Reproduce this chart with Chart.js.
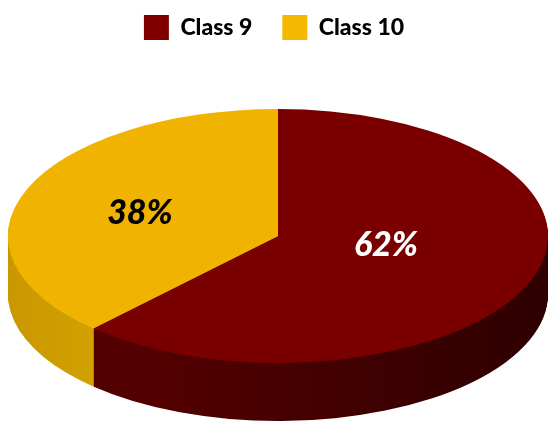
<!DOCTYPE html>
<html>
<head>
<meta charset="utf-8">
<script src="https://cdn.jsdelivr.net/npm/chart.js@4"></script>
<style>
  html, body { margin: 0; padding: 0; background: #fff; }
  #wrap { width: 548px; height: 421px; }
</style>
</head>
<body>
<div id="wrap"><canvas id="myChart" width="548" height="421"></canvas></div>
<script>
const labels = ['Class 9', 'Class 10'];
const shares = [62, 38];
const topColors = ['#7a0000', '#f0b400'];
const legendColors = ['#800000', '#f5b800'];
const sideColors = [['#520000', '#2e0000'], ['#c99800', '#d6a600']];
const labelColors = ['#ffffff', '#000000'];

// ellipse that the flat pie is squashed onto
const ell = { cx: 278, cy: 236, rx: 270, ry: 127, depth: 58 };
// where the % labels sit, as a fraction of the radii
const labelPos = [[0.43, 0.2], [0.55, 0.5]];

const pie3d = {
  id: 'pie3d',
  beforeDatasetsDraw(chart) {
    const ctx = chart.ctx;
    const arcs = chart.getDatasetMeta(0).data;
    const a0 = arcs[0];
    const r = a0.outerRadius, cx0 = a0.x, cy0 = a0.y;

    const toEllipse = (dy) => {
      ctx.translate(ell.cx, ell.cy + dy);
      ctx.scale(ell.rx / r, ell.ry / r);
      ctx.translate(-cx0, -cy0);
    };

    // side walls, drawn from the bottom layer upwards
    for (let dy = ell.depth; dy >= 1; dy--) {
      arcs.forEach((arc, i) => {
        ctx.save();
        toEllipse(dy);
        const g = ctx.createLinearGradient(cx0 - r, 0, cx0 + r, 0);
        if (i === 0) {
          g.addColorStop(0, sideColors[0][0]);
          g.addColorStop(0.3, sideColors[0][0]);
          g.addColorStop(1, sideColors[0][1]);
        } else {
          g.addColorStop(0, sideColors[1][0]);
          g.addColorStop(0.25, sideColors[1][1]);
          g.addColorStop(1, sideColors[1][1]);
        }
        const saved = arc.options.backgroundColor;
        arc.options.backgroundColor = g;
        arc.draw(ctx);
        arc.options.backgroundColor = saved;
        ctx.restore();
      });
    }

    ctx.save();
    toEllipse(0);
  },
  afterDatasetsDraw(chart) {
    const ctx = chart.ctx;
    ctx.restore();
    const arcs = chart.getDatasetMeta(0).data;
    arcs.forEach((arc, i) => {
      const mid = (arc.startAngle + arc.endAngle) / 2;
      const x = ell.cx + Math.cos(mid) * ell.rx * labelPos[i][0];
      const y = ell.cy + Math.sin(mid) * ell.ry * labelPos[i][1];
      ctx.save();
      ctx.font = 'italic 900 34px Lato, "Open Sans", sans-serif';
      ctx.fillStyle = labelColors[i];
      ctx.textAlign = 'center';
      ctx.textBaseline = 'middle';
      ctx.fillText(shares[i] + '%', x, y);
      ctx.restore();
    });
  }
};

new Chart(document.getElementById('myChart'), {
  type: 'pie',
  data: {
    labels: labels,
    datasets: [{
      data: shares,
      backgroundColor: topColors,
      borderWidth: 0
    }]
  },
  options: {
    responsive: false,
    animation: false,
    events: [],
    layout: { padding: { top: -15, bottom: 10 } },
    plugins: {
      tooltip: { enabled: false },
      legend: {
        position: 'top',
        labels: {
          boxWidth: 25,
          boxHeight: 25,
          padding: 30,
          color: '#111',
          font: { family: 'Lato, "Open Sans", sans-serif', size: 23, weight: '900' },
          generateLabels: () => labels.map((t, i) => ({
            text: t,
            fillStyle: legendColors[i],
            strokeStyle: legendColors[i],
            lineWidth: 0,
            index: i
          }))
        }
      }
    }
  },
  plugins: [pie3d]
});
</script>
</body>
</html>
